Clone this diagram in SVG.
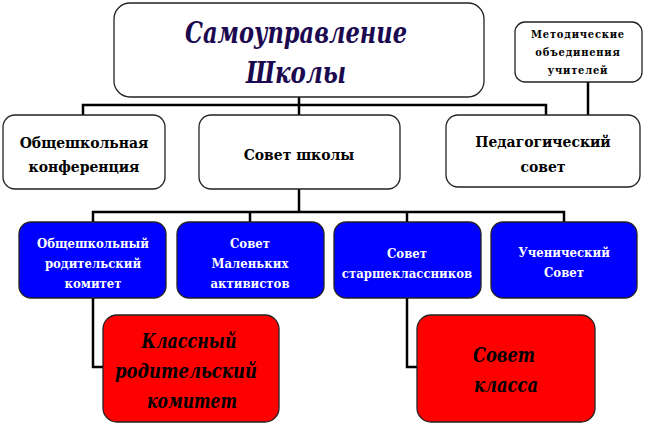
<svg xmlns="http://www.w3.org/2000/svg" width="646" height="428" viewBox="0 0 646 428">
<style>
.w{fill:#fff;stroke:#222;stroke-width:1.3}
.b{fill:#0000ff;stroke:#222;stroke-width:1.3}
.r{fill:#ff0000;stroke:#222;stroke-width:1.3}
.c{fill:none;stroke:#000;stroke-width:2.5}
text{font-family:'DejaVu Serif Condensed','DejaVu Serif',serif;font-stretch:condensed;font-weight:bold;text-anchor:middle}
.t{font-size:30px;font-style:italic;fill:#1c0a50}
.m{font-size:11px;letter-spacing:0.8px;fill:#000}
.k{font-size:15.5px;fill:#000}
.bl{font-size:13px;fill:#fff}
.rd{font-size:21px;font-style:italic;fill:#000}
</style>
<rect width="646" height="428" fill="#fff"/>
<g id="connectors">
<polyline class="c" points="83,115 83,105 546,105 546,115"/>
<line class="c" x1="299" y1="97" x2="299" y2="115"/>
<line class="c" x1="588" y1="82" x2="588" y2="115"/>
<line class="c" x1="299" y1="189" x2="299" y2="212"/>
<polyline class="c" points="93,222 93,212 564,212 564,222"/>
<line class="c" x1="250" y1="212" x2="250" y2="222"/>
<line class="c" x1="407" y1="212" x2="407" y2="222"/>
<polyline class="c" points="93,298 93,367 103,367"/>
<polyline class="c" points="407,298 407,367 417,367"/>
</g>
<g id="title">
<rect class="w" x="114" y="3" width="370" height="94" rx="16"/>
<text class="t" x="296" y="43" textLength="222" lengthAdjust="spacingAndGlyphs">Самоуправление</text>
<text class="t" x="296" y="83" textLength="100" lengthAdjust="spacingAndGlyphs">Школы</text>
</g>
<g id="method">
<rect class="w" x="515" y="22" width="127" height="60" rx="10"/>
<text class="m" x="578" y="38">Методические</text>
<text class="m" x="578" y="56">объединения</text>
<text class="m" x="578" y="74">учителей</text>
</g>
<g id="conf">
<rect class="w" x="3" y="115" width="162" height="74" rx="12"/>
<text class="k" x="84" y="148">Общешкольная</text>
<text class="k" x="84" y="172">конференция</text>
</g>
<g id="sovet">
<rect class="w" x="199" y="115" width="201" height="74" rx="12"/>
<text class="k" x="299" y="160">Совет школы</text>
</g>
<g id="ped">
<rect class="w" x="446" y="115" width="194" height="72" rx="12"/>
<text class="k" x="543" y="147">Педагогический</text>
<text class="k" x="543" y="172">совет</text>
</g>
<g id="parents">
<rect class="b" x="19" y="222" width="147" height="76" rx="12"/>
<text class="bl" x="93" y="248">Общешкольный</text>
<text class="bl" x="93" y="268">родительский</text>
<text class="bl" x="93" y="288">комитет</text>
</g>
<g id="small">
<rect class="b" x="177" y="222" width="147" height="76" rx="12"/>
<text class="bl" x="250" y="248">Совет</text>
<text class="bl" x="250" y="268">Маленьких</text>
<text class="bl" x="250" y="288">активистов</text>
</g>
<g id="senior">
<rect class="b" x="334" y="222" width="147" height="76" rx="12"/>
<text class="bl" x="407" y="258">Совет</text>
<text class="bl" x="407" y="278">старшеклассников</text>
</g>
<g id="pupil">
<rect class="b" x="491" y="222" width="146" height="76" rx="12"/>
<text class="bl" x="564" y="257">Ученический</text>
<text class="bl" x="564" y="277">Совет</text>
</g>
<g id="class-parents">
<rect class="r" x="103" y="315" width="176" height="107" rx="14"/>
<text class="rd" x="189" y="348" textLength="95" lengthAdjust="spacingAndGlyphs">Классный</text>
<text class="rd" x="186" y="378" textLength="142" lengthAdjust="spacingAndGlyphs">родительский</text>
<text class="rd" x="192" y="408" textLength="90" lengthAdjust="spacingAndGlyphs">комитет</text>
</g>
<g id="class-council">
<rect class="r" x="417" y="315" width="178" height="107" rx="14"/>
<text class="rd" x="504" y="362" textLength="62" lengthAdjust="spacingAndGlyphs">Совет</text>
<text class="rd" x="506" y="392" textLength="64" lengthAdjust="spacingAndGlyphs">класса</text>
</g>
</svg>
